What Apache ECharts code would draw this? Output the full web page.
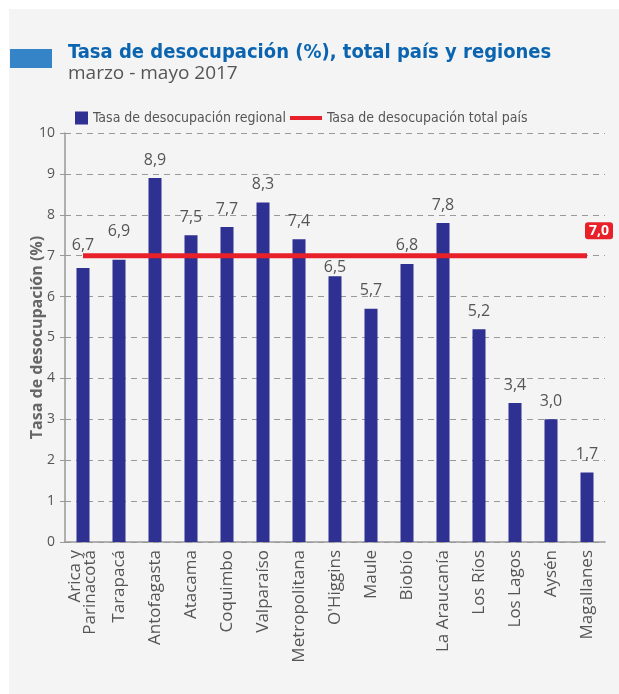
<!DOCTYPE html>
<html lang="es">
<head>
    <meta charset="UTF-8">
    <script src="https://cdn.jsdelivr.net/npm/echarts@6.0.0/dist/echarts.min.js"></script>
    <title>Tasa de desocupación</title>
    <style>
        html, body { margin: 0; padding: 0; background: #fff; }
        #tu { width: 619px; height: 694px; }
    </style>
</head>
<body>
<div id="tu"></div>
<script type="text/javascript">
    // datos
    var regiones = ['Arica y\nParinacotá', 'Tarapacá', 'Antofagasta', 'Atacama', 'Coquimbo', 'Valparaíso',
        'Metropolitana', "O'Higgins", 'Maule', 'Biobío', 'La Araucanía', 'Los Ríos', 'Los Lagos', 'Aysén', 'Magallanes'];
    var tasaRegional = [6.7, 6.9, 8.9, 7.5, 7.7, 8.3, 7.4, 6.5, 5.7, 6.8, 7.8, 5.2, 3.4, 3.0, 1.7];
    var tasaPais = 7.0;
    var yTicks = [0, 10, 1]; // min, max, intervalo

    // etiquetas que se apartan de la linea roja (desplazamiento vertical en px)
    var ajusteEtiqueta = { 0: -5, 1: -10, 7: 9 };

    var fmt = function (v) { return v.toFixed(1).replace('.', ','); };
    var lineaPais = regiones.map(function () { return tasaPais; });
    var barras = tasaRegional.map(function (v, i) {
        var d = { value: v };
        if (ajusteEtiqueta[i]) d.label = { offset: [0, ajusteEtiqueta[i]] };
        return d;
    });
    var condensada = '"DejaVu Sans Condensed", "Roboto", sans-serif';

    var thisChart = echarts.init(document.getElementById('tu'));
    var option = {
        backgroundColor: '#ffffff',
        animation: false,
        textStyle: { fontFamily: 'Open Sans' },
        graphic: [
            { type: 'rect', shape: { x: 9, y: 9, width: 610, height: 685 }, style: { fill: '#f4f4f4' }, z: -10 },
            { type: 'rect', shape: { x: 10, y: 49, width: 42, height: 19 }, style: { fill: '#3584c8' } },
            { type: 'text', left: 68, top: 43, style: { text: 'Tasa de desocupación (%), total país y regiones',
                font: 'bold 20px ' + condensada, fill: '#0a64b0' } },
            { type: 'text', left: 68, top: 64, style: { text: 'marzo - mayo 2017',
                font: '19px "Open Sans"', fill: '#555' } }
        ],
        legend: [
            {
                top: 106, left: 70, itemWidth: 13, itemHeight: 13, itemGap: 5,
                textStyle: { color: '#555', fontSize: 14, fontFamily: condensada },
                data: [{ name: 'Tasa de desocupación regional', icon: 'rect' }]
            },
            {
                top: 106, left: 285, itemWidth: 32, itemHeight: 4,
                textStyle: { color: '#555', fontSize: 14, fontFamily: condensada },
                data: [{ name: 'Tasa de desocupación total país', icon: 'rect' }]
            }
        ],
        grid: { left: 65, right: 14, top: 133, bottom: 152 },
        xAxis: {
            type: 'category',
            data: regiones,
            axisLine: { lineStyle: { color: '#999', width: 1.5 } },
            axisTick: { lineStyle: { color: '#999' }, length: 5 },
            axisLabel: { rotate: 90, color: '#555', fontSize: 17, lineHeight: 15, margin: 8 }
        },
        yAxis: {
            type: 'value',
            min: yTicks[0], max: yTicks[1], interval: yTicks[2],
            name: 'Tasa de desocupación (%)',
            nameLocation: 'middle',
            nameGap: 20,
            nameMoveOverlap: false,
            nameTextStyle: { color: '#666', fontSize: 16, fontWeight: 'bold' },
            axisLine: { show: true, lineStyle: { color: '#999', width: 1.5 } },
            axisTick: { show: true, lineStyle: { color: '#999' }, length: 5 },
            axisLabel: { color: '#555', fontSize: 14, margin: 10 },
            splitLine: { lineStyle: { color: '#999', type: [6, 5] } }
        },
        series: [
            {
                name: 'Tasa de desocupación regional',
                type: 'bar',
                data: barras,
                barWidth: 13,
                itemStyle: { color: '#2e3192' },
                label: {
                    show: true, position: 'top', distance: 10,
                    color: '#555', fontSize: 16,
                    formatter: function (p) { return fmt(p.value); }
                }
            },
            {
                name: 'Tasa de desocupación total país',
                type: 'line',
                data: lineaPais,
                symbol: 'none',
                lineStyle: { color: '#e8202a', width: 5 },
                itemStyle: { color: '#e8202a' },
                z: 5,
                endLabel: {
                    show: true,
                    formatter: function (p) { return fmt(p.value); },
                    color: '#fff', fontWeight: 'bold', fontSize: 14,
                    backgroundColor: '#e8202a', borderRadius: 3,
                    padding: [2, 4, 1, 4],
                    offset: [-10, -25]
                }
            }
        ]
    };
    thisChart.setOption(option);
</script>
</body>
</html>
